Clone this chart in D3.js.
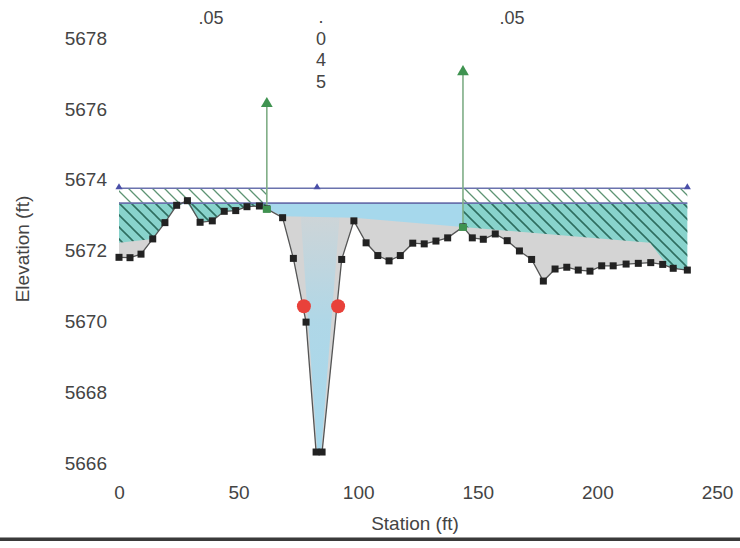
<!DOCTYPE html>
<html>
<head>
<meta charset="utf-8">
<script src="https://cdn.jsdelivr.net/npm/d3@7"></script>
<style>
  html, body { margin: 0; padding: 0; background: #fff; }
  svg { display: block; }
  text { font-family: "Liberation Sans", Arial, sans-serif; fill: #444; }
</style>
</head>
<body>
<svg id="chart" width="740" height="548"></svg>
<script>
// ---------- data ----------
const stations = [0, 4.6, 9.2, 14.1, 19.2, 24.1, 28.6, 33.9, 39.0, 44.0, 48.8, 53.5, 58.7, 61.8,
  68.4, 72.9, 78.2, 82.4, 84.9, 93.1, 98.2, 103.3, 108.2, 112.9, 117.6, 122.8, 127.6, 132.5, 137.4,
  143.8, 147.7, 152.3, 157.3, 162.3, 167.4, 172.5, 177.4, 182.3, 187.2, 192.0, 196.9, 201.8, 206.6,
  212.0, 217.1, 222.3, 227.3, 231.7, 237.6];
const elevations = [5671.81, 5671.80, 5671.90, 5672.33, 5672.79, 5673.28, 5673.41, 5672.80, 5672.84,
  5673.11, 5673.13, 5673.24, 5673.26, 5673.18, 5672.93, 5671.78, 5669.98, 5666.31, 5666.31, 5671.75,
  5672.84, 5672.22, 5671.86, 5671.71, 5671.86, 5672.21, 5672.19, 5672.27, 5672.36, 5672.67, 5672.36,
  5672.32, 5672.47, 5672.28, 5671.99, 5671.75, 5671.14, 5671.48, 5671.53, 5671.45, 5671.42, 5671.57,
  5671.57, 5671.62, 5671.64, 5671.66, 5671.61, 5671.50, 5671.45];

const wsElevation = 5673.34;     // water surface
const egElevation = 5673.76;     // energy grade
const bankStations = [61.8, 143.8];
const bankTopElevations = [5676.15, 5677.05];
const egMarkerStations = [0, 82.8, 237.6];

const nLabels = [".05", ".045", ".05"];
const nStations = [38.5, 84.4, 164.3];

const redPointStations = [77.3, 91.6];
const redPointElevations = [5670.43, 5670.43];

const leftGrayTop = [[0, 5672.22], [14.1, 5672.33]];
const channelGrayTop = [[61.8, 5673.18], [68.4, 5672.97], [98.2, 5672.93], [143.8, 5672.67]];
const rightGrayTop = [[143.8, 5672.67], [222.0, 5672.22], [229.0, 5671.60]];
const channelWedge = [[76.0, 5672.95], [82.9, 5666.31], [84.5, 5666.31], [92.2, 5672.95]];

const xTicks = [0, 50, 100, 150, 200, 250];
const yTicks = [5666, 5668, 5670, 5672, 5674, 5676, 5678];

// ---------- scales ----------
const svg = d3.select("#chart");
const x = d3.scaleLinear().domain([0, 250]).range([119, 717]);
const y = d3.scaleLinear().domain([5666, 5678]).range([463, 38.2]);
const groundAt = d3.scaleLinear().domain(stations).range(elevations);

function groundBetween(a, b) {
  const pts = [[a, groundAt(a)]];
  stations.forEach((s, i) => { if (s > a && s < b) pts.push([s, elevations[i]]); });
  pts.push([b, groundAt(b)]);
  return pts;
}
const line = d3.line().x(d => x(d[0])).y(d => y(d[1]));
const poly = pts => line(pts) + "Z";

// ---------- defs ----------
const defs = svg.append("defs");
function hatch(id, color, w) {
  const p = defs.append("pattern").attr("id", id).attr("patternUnits", "userSpaceOnUse")
    .attr("width", 12).attr("height", 12);
  p.append("path").attr("d", "M0,0L12,12M-3,9L3,15M9,-3L15,3")
    .attr("stroke", color).attr("stroke-width", w).attr("fill", "none");
}
hatch("hatchDark", "#2e6e60", 1.6);
hatch("hatchLight", "#5e9474", 1.3);
const grad = defs.append("linearGradient").attr("id", "wedgeGrad")
  .attr("x1", 0).attr("y1", 0).attr("x2", 0).attr("y2", 1);
grad.append("stop").attr("offset", "0").attr("stop-color", "#a6d8ec").attr("stop-opacity", 0.15);
grad.append("stop").attr("offset", "0.45").attr("stop-color", "#a6d8ec").attr("stop-opacity", 0.8);
grad.append("stop").attr("offset", "1").attr("stop-color", "#a6d8ec").attr("stop-opacity", 1);

// ---------- overbanks ----------
const overbanks = [[0, bankStations[0]], [bankStations[1], stations[stations.length - 1]]];
overbanks.forEach(([a, b]) => {
  const g = groundBetween(a, b).map(d => [d[0], Math.min(d[1], wsElevation)]);
  const pts = [[a, wsElevation], [b, wsElevation]].concat(g.reverse());
  svg.append("path").attr("d", poly(pts)).attr("fill", "#88d3cc");
  svg.append("path").attr("d", poly(pts)).attr("fill", "url(#hatchDark)");
  const band = [[a, egElevation], [b, egElevation], [b, wsElevation], [a, wsElevation]];
  svg.append("path").attr("d", poly(band)).attr("fill", "#ffffff");
  svg.append("path").attr("d", poly(band)).attr("fill", "url(#hatchLight)");
});

// ---------- channel water ----------
{
  const [a, b] = bankStations;
  const pts = [[a, wsElevation], [b, wsElevation]].concat(groundBetween(a, b).reverse());
  svg.append("path").attr("d", poly(pts)).attr("fill", "#a6d8ec");
}

// ---------- gray regions ----------
[leftGrayTop, channelGrayTop, rightGrayTop].forEach(top => {
  const a = top[0][0], b = top[top.length - 1][0];
  const pts = top.concat(groundBetween(a, b).reverse());
  svg.append("path").attr("d", poly(pts)).attr("fill", "#d4d4d4");
});
svg.append("path").attr("d", poly(channelWedge)).attr("fill", "url(#wedgeGrad)");

// ---------- horizontal lines ----------
const xEnd = stations[stations.length - 1];
[wsElevation, egElevation].forEach(e => {
  svg.append("line").attr("x1", x(0)).attr("x2", x(xEnd)).attr("y1", y(e)).attr("y2", y(e))
    .attr("stroke", "#6a72ad").attr("stroke-width", 1.6);
});
svg.selectAll(".egm").data(egMarkerStations).enter().append("path")
  .attr("d", d3.symbol(d3.symbolTriangle, 22))
  .attr("transform", d => `translate(${x(d)},${y(egElevation) - 1})`)
  .attr("fill", "#4a4fa8");

// ---------- bank verticals ----------
bankStations.forEach((s, i) => {
  svg.append("line").attr("x1", x(s)).attr("x2", x(s))
    .attr("y1", y(groundAt(s))).attr("y2", y(bankTopElevations[i]))
    .attr("stroke", "#7fae86").attr("stroke-width", 1.6);
  svg.append("path").attr("d", d3.symbol(d3.symbolTriangle, 60))
    .attr("transform", `translate(${x(s)},${y(bankTopElevations[i])})`)
    .attr("fill", "#3f9350");
});

// ---------- ground ----------
const groundPts = stations.map((s, i) => [s, elevations[i]]);
svg.append("path").attr("d", line(groundPts)).attr("fill", "none")
  .attr("stroke", "#555").attr("stroke-width", 1.3);
svg.selectAll(".gp").data(groundPts).enter().append("rect")
  .attr("x", d => x(d[0]) - 3.5).attr("y", d => y(d[1]) - 3.5)
  .attr("width", 7).attr("height", 7).attr("fill", "#222");
svg.selectAll(".bk").data(bankStations).enter().append("rect")
  .attr("x", d => x(d) - 4).attr("y", d => y(groundAt(d)) - 3)
  .attr("width", 8).attr("height", 7).attr("fill", "#3f9350");

// ---------- red points ----------
svg.selectAll(".rp").data(redPointStations).enter().append("circle")
  .attr("cx", d => x(d)).attr("cy", (d, i) => y(redPointElevations[i])).attr("r", 7)
  .attr("fill", "#e8413a");

// ---------- axes ----------
const xAxis = svg.append("g").attr("transform", `translate(0,${y(5666)})`)
  .call(d3.axisBottom(x).tickValues(xTicks).tickSize(0).tickPadding(23));
xAxis.select(".domain").remove();
xAxis.selectAll("text").style("font-size", "19px").style("fill", "#444")
  .style("font-family", '"Liberation Sans", Arial, sans-serif');

const yAxis = svg.append("g").attr("transform", `translate(${x(0)},0)`)
  .call(d3.axisLeft(y).tickValues(yTicks).tickSize(0).tickPadding(12).tickFormat(d3.format("d")));
yAxis.select(".domain").remove();
yAxis.selectAll("text").style("font-size", "19px").style("fill", "#444")
  .style("font-family", '"Liberation Sans", Arial, sans-serif');

svg.append("text").attr("x", 415).attr("y", 530).attr("text-anchor", "middle")
  .style("font-size", "19px").text("Station (ft)");
svg.append("text").attr("transform", "translate(29,249) rotate(-90)").attr("text-anchor", "middle")
  .style("font-size", "19px").text("Elevation (ft)");

// ---------- Manning's n labels ----------
nLabels.forEach((lab, i) => {
  if (i === 1) {
    const chars = lab.split("");
    chars.forEach((c, j) => {
      svg.append("text").attr("x", x(nStations[i])).attr("y", 23 + j * 21.7)
        .attr("text-anchor", "middle").style("font-size", "18px").text(c);
    });
  } else {
    svg.append("text").attr("x", x(nStations[i])).attr("y", 24)
      .attr("text-anchor", "middle").style("font-size", "18px").text(lab);
  }
});

// ---------- bottom border ----------
svg.append("rect").attr("x", 0).attr("y", 537).attr("width", 740).attr("height", 1).attr("fill", "#999");
svg.append("rect").attr("x", 0).attr("y", 538).attr("width", 740).attr("height", 3).attr("fill", "#3a3a3a");
</script>
</body>
</html>
